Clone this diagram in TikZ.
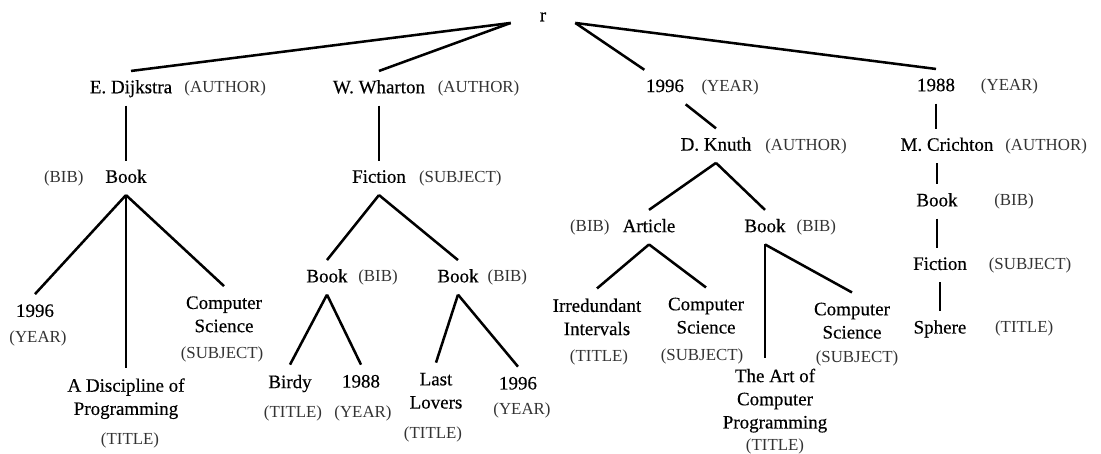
\documentclass[tikz,border=0pt]{standalone}
\usepackage{fontspec}
\setmainfont{Liberation Serif}
\newfontfamily\inkfont[FakeBold=0.4]{Liberation Serif}
\usetikzlibrary{positioning}
\tikzset{word/.style={font=\inkfont\fontsize{13.5}{16.5}\selectfont, inner xsep=1pt, inner ysep=0.21cm, text height=0.34cm, text depth=0.09cm}}
\tikzset{leaf/.style={font=\inkfont\fontsize{13.5}{16.5}\selectfont, align=center, inner xsep=1pt, inner ysep=0.25cm}}
\tikzset{tag/.style={font=\fontsize{12}{14}\selectfont, text=black!80, inner sep=0pt, text height=0.3cm, text depth=0.08cm}}
\tikzset{line/.style={draw, line width=1.8pt}}

\begin{document}
\begin{tikzpicture}
		\useasboundingbox (0,0) rectangle (27.525,-11.35);
		\node [font=\inkfont\fontsize{13.5}{16.5}\selectfont, inner xsep=0pt, inner ysep=1pt, minimum width=1.6cm] (r) at (13.575,-0.42) {r};

		\node [word, below=1.2cm of r, xshift=-10.3cm]		(1) {E. Dijkstra};
		\node [word, below=1.2cm of r, xshift=-4.1cm]		(2) {W. Wharton};
		\node [word, below=1.17cm of r, xshift=3.05cm]		(3) {1996};
		\node [word, below=1.15cm of r, xshift=9.825cm]		(4) {1988};

		\node [word, below=1.375cm of 1, xshift=-0.125cm]	(5) {Book};
		\node [word, below=1.375cm of 2]					(6) {Fiction};
		\node [word, below=0.6cm of 3, xshift=1.275cm]		(7) {D. Knuth};
		\node [word, below=0.625cm of 4, xshift=0.275cm]	(8) {M. Crichton};

		\node [leaf, below=2.475cm of 5, xshift=-2.275cm]	(9) {1996};
		\node [leaf, below=4.325cm of 5]					(10) {A Discipline of\\Programming};
		\node [leaf, below=2.275cm of 5, xshift=2.45cm]		(11) {Computer\\Science};

		\node [word, below=1.625cm of 6, xshift=-1.3cm]		(12) {Book};
		\node [word, below=1.625cm of 6, xshift=1.975cm]	(13) {Book};
		\node [leaf, below=1.75cm of 12, xshift=-0.925cm]	(14) {Birdy};
		\node [leaf, below=1.75cm of 12, xshift=0.85cm]		(15) {1988};
		\node [leaf, below=1.7cm of 13, xshift=-0.55cm]		(16) {Last\\Lovers};
		\node [leaf, below=1.8cm of 13, xshift=1.5cm]		(17) {1996};

		\node [word, below=1.175cm of 7, xshift=-1.675cm]	(18) {Article};
		\node [word, below=1.175cm of 7, xshift=1.225cm]	(19) {Book};
		\node [leaf, below=1.1cm of 18, xshift=-1.3cm]		(20) {Irredundant\\Intervals};
		\node [leaf, below=1.075cm of 18, xshift=1.425cm]	(21) {Computer\\Science};
		\node [leaf, below=2.85cm of 19, xshift=0.25cm]		(22) {The Art of\\Computer\\Programming};
		\node [leaf, below=1.2cm of 19, xshift=2.175cm]		(23) {Computer\\Science};

		\node [word, below=0.525cm of 8, xshift=-0.25cm]	(24) {Book};
		\node [word, below=0.725cm of 24, xshift=0.075cm]	(25) {Fiction};
		\node [word, below=0.725cm of 25]					(26) {Sphere};

		% labels
		\node [tag, right=0.26cm of 1]						(1t) {(AUTHOR)};
		\node [tag, right=0.27cm of 2]						(2t) {(AUTHOR)};
		\node [tag, right=0.39cm of 3]						(3t) {(YEAR)};
		\node [tag, right=0.6cm of 4]						(4t) {(YEAR)};
		\node [tag, left=0.5cm of 5]						(5t) {(BIB)};
		\node [tag, right=0.28cm of 6]						(6t) {(SUBJECT)};
		\node [tag, right=0.3cm of 7]						(7t) {(AUTHOR)};
		\node [tag, right=0.25cm of 8]						(8t) {(AUTHOR)};
		\node [tag, below=0.08cm of 9, xshift=0.075cm]		(9t) {(YEAR)};
		\node [tag, below=0.08cm of 10, xshift=0.1cm]		(10t) {(TITLE)};
		\node [tag, below=0.1cm of 11, xshift=-0.05cm]		(11t) {(SUBJECT)};
		\node [tag, right=0.22cm of 12]						(12t) {(BIB)};
		\node [tag, right=0.18cm of 13]						(13t) {(BIB)};
		\node [tag, below=0.08cm of 14, xshift=0.075cm]		(14t) {(TITLE)};
		\node [tag, below=0.18cm of 15, xshift=0.05cm]		(15t) {(YEAR)};
		\node [tag, below=0.18cm of 16, xshift=-0.075cm]	(16t) {(TITLE)};
		\node [tag, below=0.06cm of 17, xshift=0.1cm]		(17t) {(YEAR)};
		\node [tag, left=0.28cm of 18]						(18t) {(BIB)};
		\node [tag, right=0.23cm of 19]						(19t) {(BIB)};
		\node [tag, below=0.1cm of 20, xshift=0.05cm]		(20t) {(TITLE)};
		\node [tag, below=0.1cm of 21, xshift=-0.1cm]		(21t) {(SUBJECT)};
		\node [tag, below=-0.12cm of 22]					(22t) {(TITLE)};
		\node [tag, below=0.03cm of 23, xshift=0.125cm]		(23t) {(SUBJECT)};
		\node [tag, right=0.87cm of 24]						(24t) {(BIB)};
		\node [tag, right=0.5cm of 25]						(25t) {(SUBJECT)};
		\node [tag, right=0.67cm of 26]						(26t) {(TITLE)};

		\path [line] (r.south west) -- (1.north);
		\path [line] (r.south west) -- (2.north);
		\path [line] (r.south east) -- (3.north west);
		\path [line] (r.south east) -- (4.north);

		\path [line] (1.south -| 5.north) -- (5.north);
		\path [line] (2.south) -- (6.north);
		\path [line] (3.south east) -- (7.north);
		\path [line] (4.south) -- (4.south |- 8.north);

		\path [line] (5.south) -- (9.north);
		\path [line] (5.south) -- (10.north);
		\path [line] (5.south) -- (11.north);

		\path [line] (6.south) -- (12.north);
		\path [line] (6.south) -- (13.north);
		\path [line] (12.south) -- (14.north);
		\path [line] (12.south) -- (15.north);
		\path [line] (13.south) -- (16.north);
		\path [line] (13.south) -- (17.north);

		\path [line] (7.south) -- (18.north);
		\path [line] (7.south) -- (19.north);
		\path [line] (18.south) -- (20.north);
		\path [line] (18.south) -- (21.north);
		\path [line] (19.south) -- (19.south |- 22.north);
		\path [line] (19.south) -- (23.north);

		\path [line] (8.south -| 24.north) -- (24.north);
		\path [line] (24.south) -- (24.south |- 25.north);
		\path [line] (25.south) -- (26.north);
	\end{tikzpicture}
\end{document}
